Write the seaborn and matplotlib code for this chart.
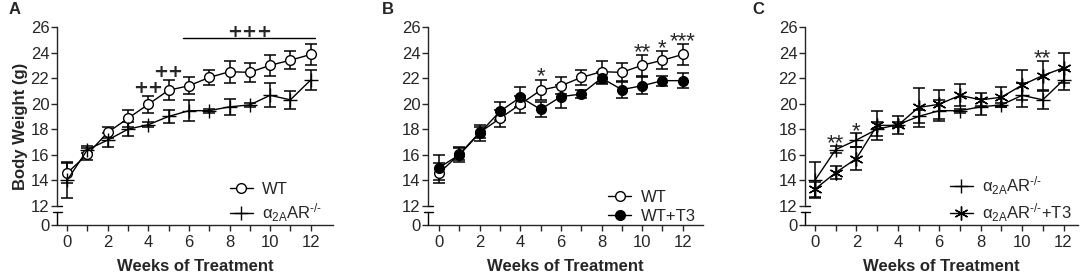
import numpy as np
import pandas as pd
import matplotlib
matplotlib.use('Agg')
from matplotlib import pyplot as plt
import matplotlib.transforms as mtrans
import seaborn as sns

weeks = list(range(13))

wt_mean = [14.57, 16.05, 17.75, 18.85, 19.95, 21.05, 21.4, 22.05, 22.5, 22.45, 23.0, 23.4, 23.85]
wt_sem = [0.8, 0.45, 0.45, 0.65, 0.65, 0.8, 0.65, 0.6, 0.85, 0.75, 0.8, 0.7, 0.85]

ko_mean = [14.0, 16.4, 17.15, 18.0, 18.35, 19.0, 19.45, 19.45, 19.75, 19.9, 20.65, 20.3, 21.85]
ko_sem = [1.4, 0.3, 0.55, 0.55, 0.2, 0.5, 0.8, 0.15, 0.6, 0.15, 0.95, 0.7, 0.75]

wt_t3_mean = [15.0, 16.0, 17.7, 19.4, 20.5, 19.55, 20.55, 20.75, 22.0, 21.1, 21.4, 21.8, 21.8]
wt_t3_sem = [0.95, 0.6, 0.6, 0.7, 0.8, 0.6, 0.9, 0.3, 0.5, 0.65, 0.65, 0.4, 0.6]

ko_t3_mean = [13.3, 14.6, 15.7, 18.3, 18.3, 19.7, 19.95, 20.65, 20.3, 20.5, 21.45, 22.2, 22.8]
ko_t3_sem = [0.6, 0.5, 0.9, 1.15, 0.7, 1.5, 1.15, 0.85, 0.5, 0.8, 1.2, 1.1, 1.2]

ytick_vals = [10.5, 12, 14, 16, 18, 20, 22, 24, 26]
ytick_labels = ['0', '12', '14', '16', '18', '20', '22', '24', '26']
ko_label = 'α$_{\\mathrm{2A}}$AR$^{\\text{-/-}}$'

# significance marks: (x, y, text)
marks_a = [(4, 21.2, '++'), (5, 22.5, '++'), (9.0, 25.6, '+++')]
marks_b = [(5, 21.65, '*'), (10, 23.55, '**'), (11, 23.85, '*'), (12, 24.45, '***')]
marks_c = [(1, 16.4, '**'), (2, 17.4, '*'), (11, 23.1, '**')]


def draw_series(ax, mean, sem, label, marker, mfc, ms):
    frame = pd.DataFrame({'week': weeks, 'weight': mean})
    ax.errorbar(weeks, mean, yerr=sem, fmt='none', ecolor='black', elinewidth=1.1,
                capsize=4.5, capthick=1.1, zorder=2)
    sns.lineplot(ax=ax, data=frame, x='week', y='weight', color='black', lw=1.0,
                 marker=marker, markersize=ms, markerfacecolor=mfc, markeredgecolor='black',
                 markeredgewidth=1.0, label=label, zorder=3)


def style_axes(ax, xlim, legend_x):
    ax.set_xlim(*xlim)
    ax.set_ylim(10.5, 26)
    ax.set_xticks(range(0, 13, 2))
    ax.set_xticks(range(1, 13, 2), minor=True)
    ax.set_yticks(ytick_vals)
    ax.set_yticklabels(ytick_labels)
    ax.tick_params(axis='both', which='both', direction='out', length=4, width=1.0,
                   labelsize=12, pad=1.5)
    ax.tick_params(axis='x', pad=3)
    for s in ['top', 'right']:
        ax.spines[s].set_visible(False)
    ax.spines['left'].set_bounds(12, 26)
    ax.spines['left'].set_linewidth(1.0)
    ax.spines['bottom'].set_linewidth(1.0)
    # axis break
    tr = mtrans.blended_transform_factory(ax.transAxes, ax.transData)
    ax.plot([0, 0], [10.5, 11.55], color='black', lw=1.0, transform=tr, clip_on=False)
    ax.plot([-0.016, 0.018], [11.55, 11.55], color='black', lw=1.0, transform=tr, clip_on=False)
    ax.plot([0, 0.018], [12, 12], color='black', lw=1.0, transform=tr, clip_on=False)
    ax.set_xlabel('Weeks of Treatment', fontsize=12, fontweight='bold', labelpad=7)
    ax.set_ylabel('')
    ax.legend(loc='lower left', bbox_to_anchor=(legend_x, 0.005), frameon=False, fontsize=12,
              handlelength=1.4, handletextpad=0.55, labelspacing=0.25, borderpad=0,
              borderaxespad=0)


sns.set_style('ticks')
plt.rcParams['font.family'] = ['Liberation Sans', 'DejaVu Sans']
plt.rcParams['mathtext.fontset'] = 'custom'
plt.rcParams['mathtext.rm'] = 'Liberation Sans'
plt.rcParams['mathtext.it'] = 'Liberation Sans:italic'

fig = plt.figure(figsize=(10.84, 2.8), dpi=100)
W, H = 1084, 280
bottom = 55 / H
height = 198 / H
ax_a = fig.add_axes([57 / W, bottom, 276 / W, height])
ax_b = fig.add_axes([428 / W, bottom, 275 / W, height])
ax_c = fig.add_axes([805 / W, bottom, 273 / W, height])

# A
draw_series(ax_a, wt_mean, wt_sem, 'WT', 'o', 'white', 7)
draw_series(ax_a, ko_mean, ko_sem, ko_label, '+', 'black', 10)
style_axes(ax_a, (-0.5, 13.1), 0.625)
ax_a.plot([5.7, 12.2], [25.15, 25.15], color='black', lw=1.0)
for x, y, t in marks_a:
    ax_a.text(x, y, t, ha='center', va='center', fontsize=13, fontweight='bold',
              family='DejaVu Sans')
ax_a.set_ylabel('Body Weight (g)', fontsize=12, fontweight='bold', labelpad=2)

# B
draw_series(ax_b, wt_mean, wt_sem, 'WT', 'o', 'white', 7)
draw_series(ax_b, wt_t3_mean, wt_t3_sem, 'WT+T3', 'o', 'black', 7)
style_axes(ax_b, (-0.55, 13.0), 0.655)
for x, y, t in marks_b:
    ax_b.text(x, y, t, ha='center', va='baseline', fontsize=16)

# C
draw_series(ax_c, ko_mean, ko_sem, ko_label, '+', 'black', 10)
draw_series(ax_c, ko_t3_mean, ko_t3_sem, ko_label + '+T3', (6, 2, 0), 'black', 10)
style_axes(ax_c, (-0.48, 12.7), 0.53)
for x, y, t in marks_c:
    ax_c.text(x, y, t, ha='center', va='baseline', fontsize=16)

for x, t in [(15 / W, 'A'), (388 / W, 'B'), (758 / W, 'C')]:
    fig.text(x, 1 - 10 / H, t, ha='center', va='center', fontsize=12, fontweight='bold')

fig.savefig('out.png', dpi=100)
